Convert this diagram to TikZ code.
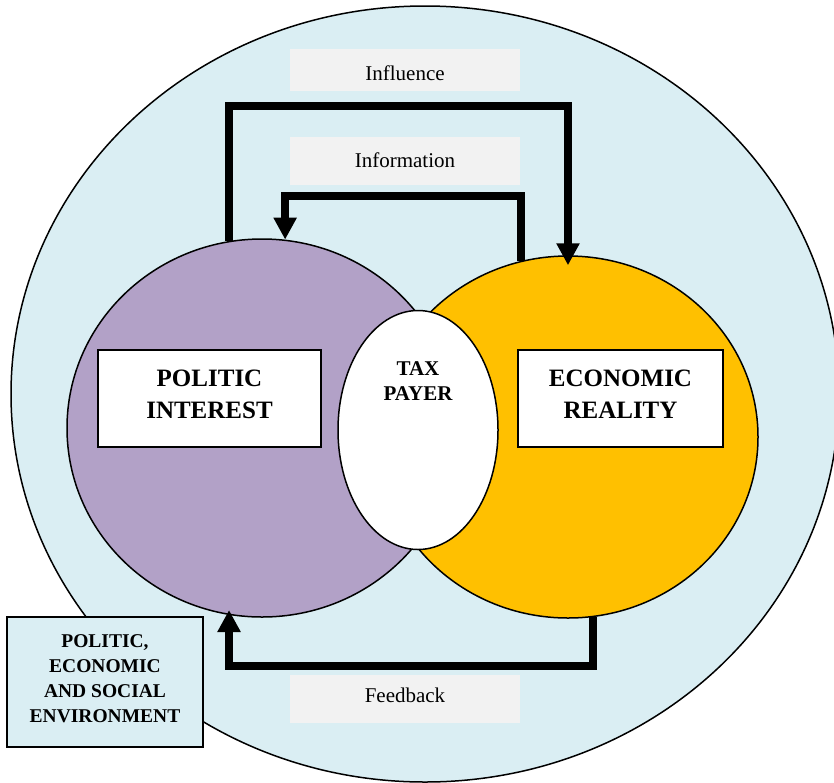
\documentclass[tikz,border=0pt]{standalone}
\usepackage{fontspec}
\setmainfont{Liberation Serif}
\usepackage{tikz}
\usetikzlibrary{shapes.geometric}
\usetikzlibrary{positioning}
\usetikzlibrary{arrows.meta}

\definecolor{skyBg}{HTML}{DAEEF3}
\definecolor{lilac}{HTML}{B2A1C7}
\definecolor{amber}{HTML}{FFC000}
\definecolor{tagGray}{HTML}{F2F2F2}

\begin{document}
\begin{tikzpicture}[x=1pt, y=-1pt,
    sphere/.style={ellipse, draw, line width=1.5pt},
    titlebox/.style={draw, line width=1.5pt, fill=white, minimum height=97pt, text depth=8pt, align=center, font=\bfseries\fontsize{25}{32}\selectfont},
    tag/.style={fill=tagGray, minimum width=230pt, minimum height=48pt, inner sep=0pt, font=\fontsize{21}{24}\selectfont},
    flow/.style={line width=8pt, line join=miter, -{Triangle[width=22pt,length=22pt]}}]

    \useasboundingbox (0,0) rectangle (834,782);
    \clip (0,0) rectangle (834,782);

    % environment
    \filldraw[fill=skyBg, line width=1.5pt] (425,394) ellipse [x radius=414, y radius=388];

    % the two spheres and the overlap
    \node[sphere, fill=lilac, minimum width=390pt, minimum height=378pt] (pol) at (262,428) {};
    \node[sphere, fill=amber, minimum width=380pt, minimum height=362pt] (eco) at (568,437) {};
    \node[sphere, fill=white, minimum width=160pt, minimum height=239pt] (tax) at (418,430) {};
    \node[font=\bfseries\fontsize{21}{25}\selectfont, align=center, below=48pt of tax.north] (taxtext) {TAX\\PAYER};

    \node[titlebox, minimum width=223pt] (polbox) at (209.5,398.5) {POLITIC\\INTEREST};
    \node[titlebox, minimum width=205pt] (ecobox) at (620.5,398.5) {ECONOMIC\\REALITY};

    % labels
    \node[tag, minimum height=42pt, text height=22pt] (influence) at (405,70) {Influence};
    \node[tag] (information) at (405,160.5) {Information};
    \node[tag, text depth=8pt] (feedback) at (405,699) {Feedback};

    % flows
    \draw[flow, shorten >=-10pt] (pol.100) -- ++(0,-135) -| (eco.north);
    \draw[flow] (eco.105) -- ++(0,-65) -| (pol.83);
    \draw[flow, shorten >=-5pt] (eco.-82) -- ++(0,49) -| (pol.-100);

    \node[draw, line width=1.5pt, fill=skyBg, minimum width=196pt, minimum height=130pt, text depth=6pt, align=center, font=\bfseries\fontsize{19.5}{25}\selectfont] (env) at (105,682) {POLITIC,\\ECONOMIC\\AND SOCIAL\\ENVIRONMENT};
\end{tikzpicture}
\end{document}
